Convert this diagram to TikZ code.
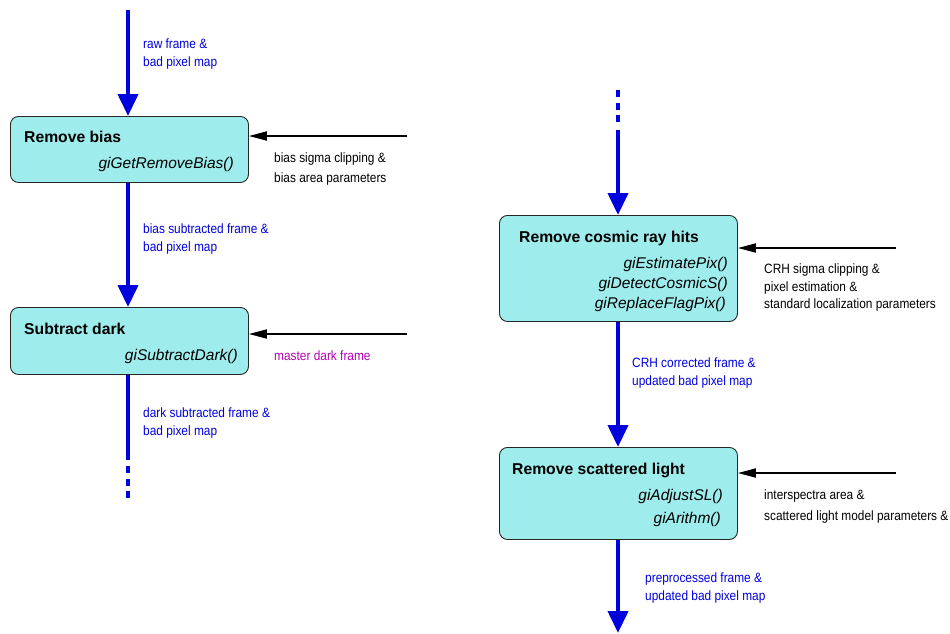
\documentclass[tikz,border=0pt]{standalone}
\usepackage{fontspec}
\setmainfont{Liberation Sans}
\newfontfamily\labelfont[FakeStretch=0.88]{Liberation Sans}
\usetikzlibrary{arrows.meta}
\definecolor{boxfill}{RGB}{158,236,236}
\definecolor{flowblue}{RGB}{0,0,220}
\definecolor{darkmag}{RGB}{180,0,180}
\tikzset{
  procbox/.style={draw=black!85, line width=0.9pt, rounded corners=8pt, fill=boxfill, anchor=north west, inner sep=0pt},
  titletext/.style={anchor=base west, inner sep=0pt, font=\fontsize{15.7}{18}\selectfont\bfseries},
  functext/.style={anchor=base east, inner sep=0pt, font=\fontsize{15.5}{18}\selectfont\itshape},
  lbl/.style={anchor=north west, inner sep=0pt, align=left, font=\labelfont\fontsize{13.5}{18}\selectfont},
  flow/.style={draw=flowblue, line width=4pt, -{Triangle[length=22pt,width=20pt]}},
  flowline/.style={draw=flowblue, line width=4pt},
  flowdash/.style={draw=flowblue, line width=4pt, dash pattern=on 7pt off 5.5pt},
  param/.style={draw=black, line width=1.8pt, -{Triangle[length=18pt,width=9pt]}}
}
\begin{document}
\begin{tikzpicture}[x=1pt,y=-1pt]
\useasboundingbox (0,0) rectangle (950,633);
% boxes
\node[procbox, minimum width=238pt, minimum height=66pt] (bias) at (10,116) {};
\node[procbox, minimum width=238pt, minimum height=67pt] (dark) at (10,307) {};
\node[procbox, minimum width=238pt, minimum height=106pt] (crh) at (499,215) {};
\node[procbox, minimum width=238pt, minimum height=92pt] (sl) at (499,447) {};
% box texts
\node[titletext] (biast) at (24,142.5) {Remove bias};
\node[functext] (biasf) at (234,168.5) {giGetRemoveBias()};
\node[titletext] (darkt) at (24,334.5) {Subtract dark};
\node[functext] (darkf) at (238,360.5) {giSubtractDark()};
\node[titletext] (crht) at (519,242.5) {Remove cosmic ray hits};
\node[functext] (crhf1) at (728,268.5) {giEstimatePix()};
\node[functext] (crhf2) at (728,288.5) {giDetectCosmicS()};
\node[functext] (crhf3) at (726,308) {giReplaceFlagPix()};
\node[titletext] (slt) at (512,474.5) {Remove scattered light};
\node[functext] (slf1) at (723,500) {giAdjustSL()};
\node[functext] (slf2) at (721,523) {giArithm()};
% free ends
\coordinate (in0) at (128,10);
\coordinate (d0) at (128,460);
\coordinate (d1) at (128,466);
\coordinate (d2) at (128,500);
\coordinate (r0) at (618,90);
\coordinate (r1) at (618,124);
\coordinate (r2) at (618,130);
\coordinate (out) at (618,633);
\coordinate (pbias) at (407,136);
\coordinate (pdark) at (407,334);
\coordinate (pcrh) at (896,248);
\coordinate (psl) at (896,473);
% blue flow
\draw[flow] (in0) -- (bias.north -| in0);
\draw[flow] (bias.south -| in0) -- (dark.north -| in0);
\draw[flowline] (dark.south -| in0) -- (d0);
\draw[flowdash] (d1) -- (d2);
\draw[flowdash] (r0) -- (r1);
\draw[flow] (r2) -- (crh.north -| r2);
\draw[flow] (crh.south -| r2) -- (sl.north -| r2);
\draw[flow] (sl.south -| r2) -- (out);
% parameter inputs
\draw[param] (pbias) -- (pbias -| bias.east);
\draw[param] (pdark) -- (pdark -| dark.east);
\draw[param] (pcrh) -- (pcrh -| crh.east);
\draw[param] (psl) -- (psl -| sl.east);
% labels
\node[lbl, text=flowblue] (l1) at (143,39) {raw frame \&\\bad pixel map};
\node[lbl, text=flowblue] (l2) at (143,224) {bias subtracted frame \&\\bad pixel map};
\node[lbl, text=flowblue] (l3) at (143,408) {dark subtracted frame \&\\bad pixel map};
\node[lbl, font=\labelfont\fontsize{13.5}{20}\selectfont] (l4) at (274,153) {bias sigma clipping \&\\bias area parameters};
\node[lbl, text=darkmag] (l5) at (274,351) {master dark frame};
\node[lbl, font=\labelfont\fontsize{13.5}{17.5}\selectfont] (l6) at (764,264) {CRH sigma clipping \&\\pixel estimation \&\\standard localization parameters};
\node[lbl, text=flowblue] (l7) at (632,358) {CRH corrected frame \&\\updated bad pixel map};
\node[lbl, font=\labelfont\fontsize{13.5}{21}\selectfont] (l8) at (764,490) {interspectra area \&\\scattered light model parameters \&};
\node[lbl, text=flowblue] (l9) at (645,573) {preprocessed frame \&\\updated bad pixel map};
\end{tikzpicture}
\end{document}
